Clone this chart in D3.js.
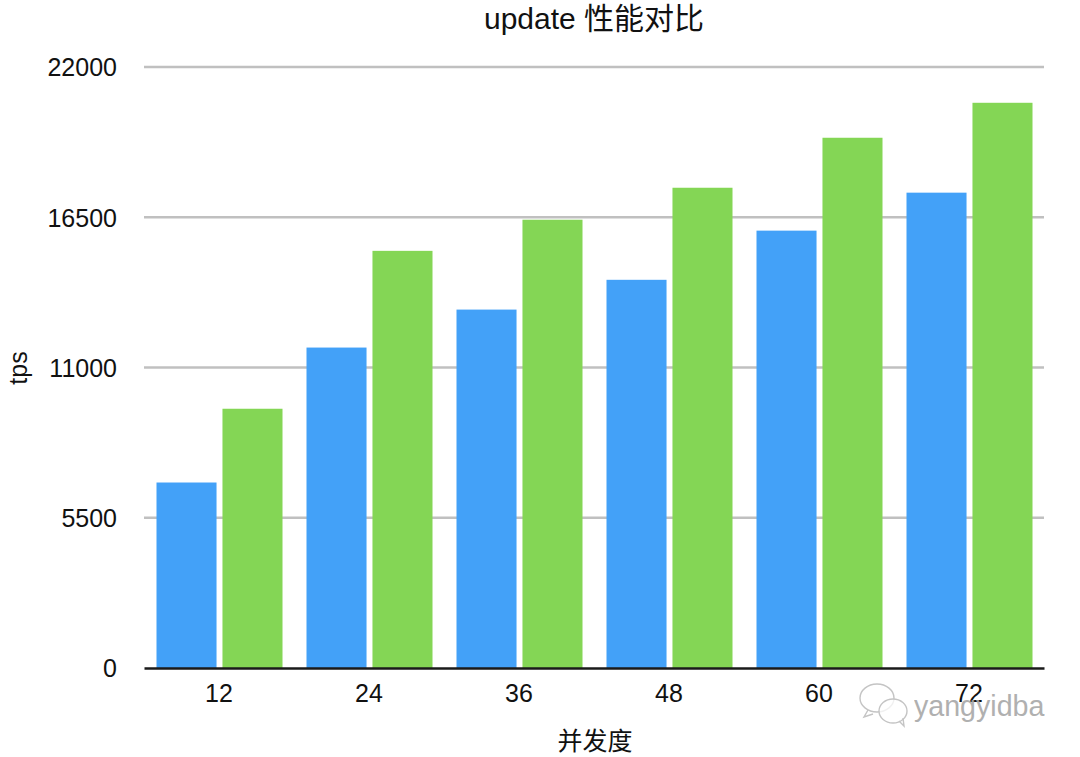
<!DOCTYPE html>
<html><head><meta charset="utf-8">
<script src="https://cdn.jsdelivr.net/npm/d3@7/dist/d3.min.js"></script>
<style>
html,body{margin:0;padding:0;background:#fff}
svg{display:block}
text{font-family:"Liberation Sans","Noto Sans CJK SC",sans-serif;fill:#111}
</style></head><body>
<script>
const categories = ["12","24","36","48","60","72"];
const seriesNames = ["a","b"];
const seriesA = [6790,11730,13120,14210,16010,17400];
const seriesB = [9490,15270,16410,17580,19410,20690];
const yTicks = [0,5500,11000,16500,22000];
const colors = ["#43a1f8","#84d655"];

const W=1080,H=757;
const svg=d3.select("body").append("svg").attr("width",W).attr("height",H);
const x0=d3.scaleBand().domain(categories).range([144,1044]);
const x1=d3.scaleBand().domain(seriesNames).range([12.5,138.5]).paddingInner(0.09);
const y=d3.scaleLinear().domain([0,22000]).range([668,67]);

const yAxis=d3.axisLeft(y).tickValues(yTicks).tickSize(0).tickPadding(27).tickFormat(d3.format("d"));
const gy=svg.append("g").attr("transform","translate(144,0)").call(yAxis);
gy.select(".domain").remove();
gy.selectAll("text").attr("font-size",25).attr("dy","0.35em");
svg.append("g").selectAll("line").data(yTicks.filter(d=>d>0)).join("line")
  .attr("x1",144).attr("x2",1044).attr("y1",d=>y(d)).attr("y2",d=>y(d))
  .attr("stroke","#c0c0c0").attr("stroke-width",2.5);

const groups=svg.append("g").selectAll("g").data(categories).join("g")
  .attr("transform",d=>`translate(${x0(d)},0)`);
groups.selectAll("rect").data((d,i)=>[{s:"a",v:seriesA[i]},{s:"b",v:seriesB[i]}]).join("rect")
  .attr("x",d=>x1(d.s)).attr("width",x1.bandwidth())
  .attr("y",d=>y(d.v)).attr("height",d=>y(0)-y(d.v))
  .attr("fill",(d,i)=>colors[i]);

const xAxis=d3.axisBottom(x0).tickSize(0).tickPadding(16);
const gx=svg.append("g").attr("transform","translate(0,668)").call(xAxis);
gx.select(".domain").attr("stroke","#1a1a1a").attr("stroke-width",2.5);
gx.selectAll("text").attr("font-size",25);

svg.append("text").attr("x",594).attr("y",29).attr("text-anchor","middle").attr("font-size",30).text("update 性能对比");
svg.append("text").attr("x",595).attr("y",750).attr("text-anchor","middle").attr("font-size",25).text("并发度");
svg.append("text").attr("transform","translate(27,368) rotate(-90)").attr("text-anchor","middle").attr("font-size",25).text("tps");

const wm=svg.append("g").attr("fill","none").attr("stroke","#c4c4c4").attr("stroke-width",1.4);
wm.append("ellipse").attr("cx",877).attr("cy",698).attr("rx",17).attr("ry",14).attr("fill","rgba(255,255,255,.75)");
wm.append("ellipse").attr("cx",893).attr("cy",711).attr("rx",14).attr("ry",12).attr("fill","rgba(255,255,255,.75)");
wm.append("path").attr("d","M868 710l-4 7 9-3");
wm.append("path").attr("d","M899 721l5 5-1-8");
svg.append("text").attr("x",915.5).attr("y",717.5).attr("font-size",28.6).style("fill","#fff").style("opacity",.8).text("yangyidba");
svg.append("text").attr("x",914).attr("y",716).attr("font-size",28.6).style("fill","#a8a8a8").style("opacity",.9).text("yangyidba");
</script>
</body></html>
